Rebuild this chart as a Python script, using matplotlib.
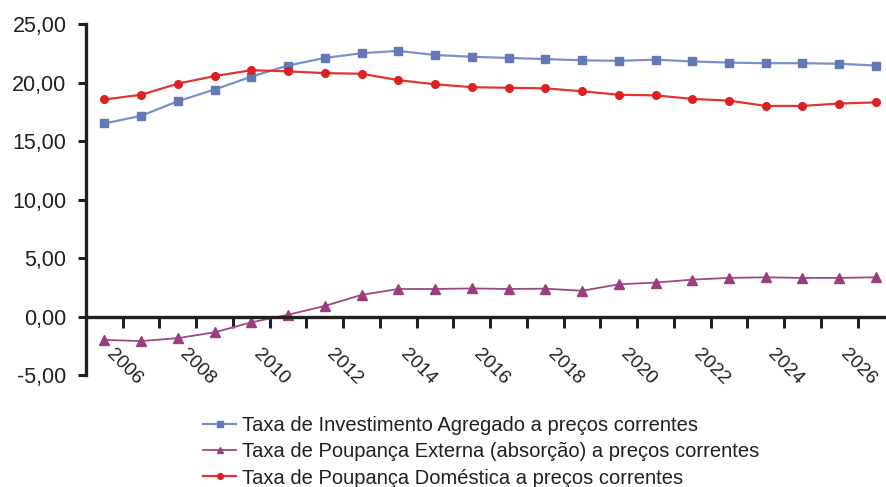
import numpy as np
import matplotlib
matplotlib.use("Agg")
import matplotlib.pyplot as plt
from matplotlib.ticker import FuncFormatter, FixedLocator, FixedFormatter
from matplotlib.transforms import ScaledTranslation

plt.rcParams['font.family'] = ['Liberation Sans', 'DejaVu Sans']

# Data
years = list(range(2005, 2027))
investimento = [16.5, 17.15, 18.4, 19.4, 20.5, 21.45, 22.1, 22.5, 22.7, 22.35, 22.2,
                22.1, 22.0, 21.9, 21.85, 21.95, 21.8, 21.7, 21.65, 21.65, 21.6, 21.45]
poup_externa = [-2.0, -2.1, -1.85, -1.35, -0.5, 0.15, 0.9, 1.85, 2.35, 2.35, 2.4,
                2.35, 2.38, 2.2, 2.75, 2.9, 3.15, 3.3, 3.35, 3.3, 3.3, 3.35]
poup_domestica = [18.55, 18.95, 19.9, 20.55, 21.05, 20.95, 20.8, 20.75, 20.2, 19.85, 19.6,
                  19.55, 19.5, 19.25, 18.95, 18.9, 18.6, 18.45, 18.0, 18.0, 18.2, 18.3]
series_labels = ['Taxa de Investimento Agregado a preços correntes',
                 'Taxa de Poupança Externa (absorção) a preços correntes',
                 'Taxa de Poupança Doméstica a preços correntes']

ink = '#231F20'
x = np.arange(len(years))

fig = plt.figure(figsize=(8.87, 4.87), dpi=100)
ax = fig.add_axes([86 / 887, 1 - 375 / 487, 1 - 86 / 887, (375 - 24) / 487])

ax.plot(x, investimento, color='#7D8FC6', lw=1.6, marker='s', ms=6,
        mfc='#6378B4', mec='#6378B4', label=series_labels[0])
ax.plot(x, poup_externa, color='#9C4A85', lw=1.3, marker='^', ms=6.5,
        mfc='#9A3F7E', mec='#9A3F7E', label=series_labels[1])
ax.plot(x, poup_domestica, color='#E23434', lw=1.6, marker='o', ms=5.5,
        mfc='#DD2020', mec='#DD2020', label=series_labels[2])

ax.set_xlim(-0.5, 21.3)
ax.set_ylim(-5, 25)
ax.set_yticks(np.arange(-5, 26, 5))
ax.yaxis.set_major_formatter(FuncFormatter(lambda v, p: f'{v:.2f}'.replace('.', ',')))

# category labels every two years, tick marks between categories
ax.xaxis.set_major_locator(FixedLocator(x[1::2]))
ax.xaxis.set_major_formatter(FixedFormatter([str(y) for y in years[1::2]]))
ax.xaxis.set_minor_locator(FixedLocator(x[:-1] + 0.5))

ax.spines['top'].set_visible(False)
ax.spines['right'].set_visible(False)
ax.spines['bottom'].set_position(('data', 0))
for s in ['left', 'bottom']:
    ax.spines[s].set_linewidth(2.4)
    ax.spines[s].set_color(ink)

ax.tick_params(axis='y', length=6, width=2.2, color=ink, labelsize=15.5,
               labelcolor=ink, pad=8)
ax.tick_params(axis='x', which='major', length=0, labelsize=13.8, labelcolor=ink,
               pad=21, labelrotation=-45)
ax.tick_params(axis='x', which='minor', length=8, width=2.2, color=ink, direction='out')
shift = ScaledTranslation(4 / 100, 0, fig.dpi_scale_trans)
for lbl in ax.get_xticklabels():
    lbl.set_horizontalalignment('right')
    lbl.set_verticalalignment('top')
    lbl.set_transform(lbl.get_transform() + shift)

fig.legend(loc='upper left', bbox_to_anchor=(203 / 887, 1 - 416 / 487), frameon=False,
           fontsize=14.5, handlelength=1.65, handletextpad=0.3, labelspacing=0.36,
           borderpad=0, borderaxespad=0, markerscale=0.75, labelcolor=ink)

fig.savefig('out.png', dpi=100)
